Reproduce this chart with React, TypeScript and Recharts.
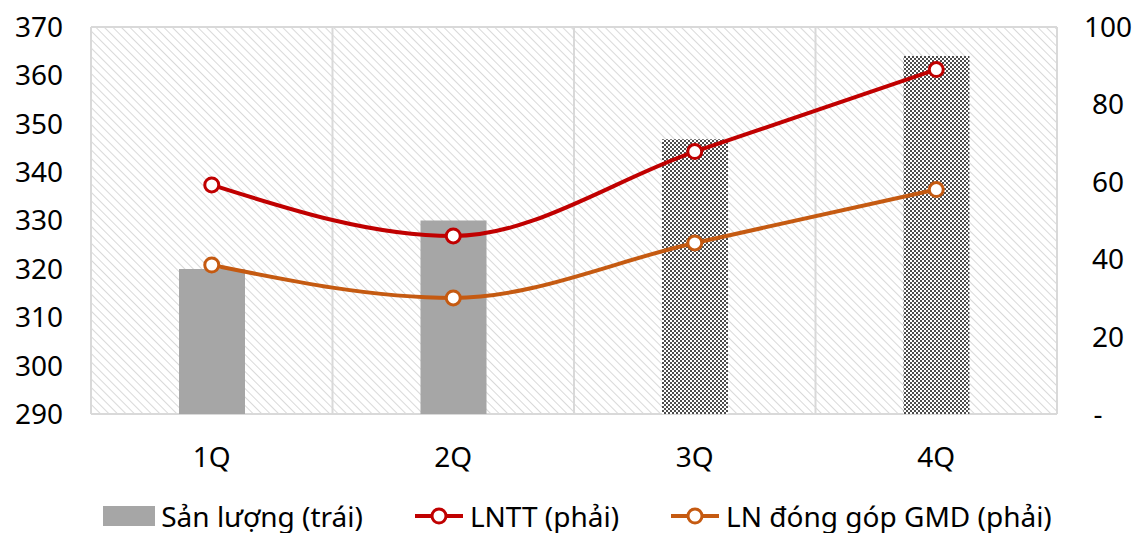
import {
  Bar,
  CartesianGrid,
  Cell,
  ComposedChart,
  Legend,
  Line,
  XAxis,
  YAxis,
} from 'recharts';

const quarters = ['1Q', '2Q', '3Q', '4Q'];
const sanLuong = [320, 330, 346.8, 364];
const lntt = [59.2, 46, 67.8, 89];
const lnDongGop = [38.5, 30, 44.2, 58];
const forecastFlags = [false, false, true, true];

const leftTicks = [290, 300, 310, 320, 330, 340, 350, 360, 370];
const rightTicks = [0, 20, 40, 60, 80, 100];

const seriesNames = {
  sanLuong: 'Sản lượng (trái)',
  lntt: 'LNTT (phải)',
  lnDongGop: 'LN đóng góp GMD (phải)',
};

const chartData = quarters.map((q, i) => ({
  quarter: q,
  sanLuong: sanLuong[i],
  lntt: lntt[i],
  lnDongGop: lnDongGop[i],
  forecast: forecastFlags[i],
}));

const FONT = '"Noto Sans", sans-serif';
const RED = '#c00000';
const ORANGE = '#c55a11';
const BAR_GRAY = '#a6a6a6';

const RightTick = (props: any) => {
  const { x, y, payload } = props;
  const isZero = payload.value === 0;
  return (
    <text
      x={x + (isZero ? -10 : 0)}
      y={y}
      dy={10}
      textAnchor="middle"
      fontSize={28}
      fontFamily={FONT}
      fill="#000"
    >
      {isZero ? '-' : payload.value}
    </text>
  );
};

const LegendContent = () => (
  <div
    style={{
      display: 'flex',
      justifyContent: 'center',
      alignItems: 'center',
      fontFamily: FONT,
      fontSize: 28,
      lineHeight: '30px',
      height: 30,
      color: '#000',
      gap: 52,
      paddingLeft: 8,
    }}
  >
    <div style={{ display: 'flex', alignItems: 'center' }}>
      <span style={{ width: 52, height: 20, background: BAR_GRAY, marginRight: 6 }} />
      {seriesNames.sanLuong}
    </div>
    {[
      { name: seriesNames.lntt, color: RED },
      { name: seriesNames.lnDongGop, color: ORANGE },
    ].map((s) => (
      <div key={s.name} style={{ display: 'flex', alignItems: 'center' }}>
        <svg width={48} height={20} style={{ marginRight: 7 }}>
          <line x1={0} y1={10} x2={48} y2={10} stroke={s.color} strokeWidth={4} />
          <circle cx={24} cy={10} r={7} fill="#fff" stroke={s.color} strokeWidth={3} />
        </svg>
        {s.name}
      </div>
    ))}
  </div>
);

export default function App() {
  return (
    <ComposedChart
      width={1131}
      height={525}
      data={chartData}
      margin={{ top: 19, right: 0, bottom: 0, left: 0 }}
    >
      <defs>
        <pattern
          id="hatch"
          width={6}
          height={6}
          patternUnits="userSpaceOnUse"
          patternTransform="rotate(-45)"
        >
          <rect width={6} height={6} fill="#fff" />
          <line x1={0} y1={0} x2={0} y2={6} stroke="#d9d9d9" strokeWidth={2} />
        </pattern>
        <pattern id="checker" width={4} height={4} patternUnits="userSpaceOnUse">
          <rect width={4} height={4} fill="#fff" />
          <rect x={0} y={0} width={2} height={2} fill="#4d4d4d" />
          <rect x={2} y={2} width={2} height={2} fill="#4d4d4d" />
        </pattern>
      </defs>
      <CartesianGrid
        fill="url(#hatch)"
        stroke="#d9d9d9"
        strokeWidth={2}
        verticalCoordinatesGenerator={({ offset }: any) =>
          quarters
            .map((_, i) => offset.left + (i * offset.width) / quarters.length)
            .concat(offset.left + offset.width)
        }
      />
      <XAxis
        dataKey="quarter"
        axisLine={false}
        tickLine={false}
        height={87}
        tickMargin={27}
        tick={{ fontSize: 28, fontFamily: FONT, fill: '#000' }}
      />
      <YAxis
        yAxisId="left"
        domain={[290, 370]}
        ticks={leftTicks}
        interval={0}
        width={83}
        axisLine={false}
        tickLine={false}
        tickSize={0}
        tickMargin={28}
        tick={{ fontSize: 28, fontFamily: FONT, fill: '#000' }}
      />
      <YAxis
        yAxisId="right"
        orientation="right"
        domain={[0, 100]}
        ticks={rightTicks}
        interval={0}
        width={82}
        axisLine={false}
        tickLine={false}
        tickSize={0}
        tickMargin={51}
        tick={<RightTick />}
      />
      <Legend verticalAlign="bottom" height={32} content={<LegendContent />} />
      <Bar
        yAxisId="left"
        dataKey="sanLuong"
        name={seriesNames.sanLuong}
        barSize={66}
        isAnimationActive={false}
      >
        {chartData.map((d) => (
          <Cell key={d.quarter} fill={d.forecast ? 'url(#checker)' : BAR_GRAY} />
        ))}
      </Bar>
      <Line
        yAxisId="right"
        type="monotone"
        dataKey="lntt"
        name={seriesNames.lntt}
        stroke={RED}
        strokeWidth={4}
        dot={{ r: 7, fill: '#fff', stroke: RED, strokeWidth: 3 }}
        isAnimationActive={false}
      />
      <Line
        yAxisId="right"
        type="monotone"
        dataKey="lnDongGop"
        name={seriesNames.lnDongGop}
        stroke={ORANGE}
        strokeWidth={4}
        dot={{ r: 7, fill: '#fff', stroke: ORANGE, strokeWidth: 3 }}
        isAnimationActive={false}
      />
    </ComposedChart>
  );
}
